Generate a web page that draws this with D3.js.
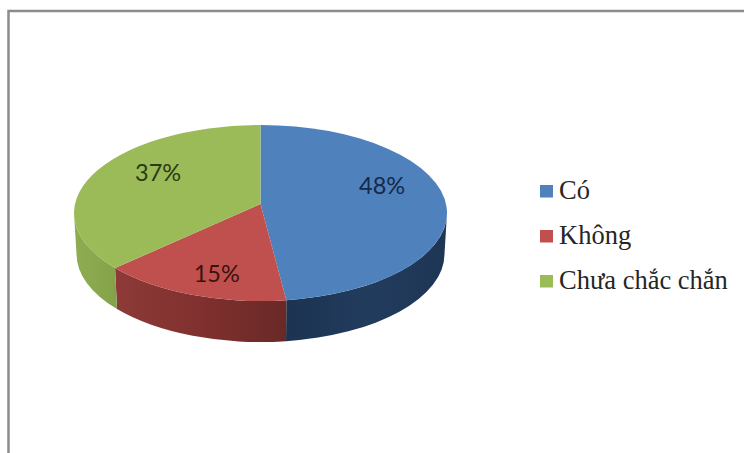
<!DOCTYPE html>
<html>
<head>
<meta charset="utf-8">
<script src="https://cdn.jsdelivr.net/npm/d3@7"></script>
<style>
    html, body { margin: 0; padding: 0; background: #fff; overflow: hidden; }
    svg { display: block; }
    .pct { font-family: Lato, "Open Sans", sans-serif; font-size: 23.5px; text-anchor: middle; }
    .legend-text { font-family: "Liberation Serif", serif; font-size: 26.5px; fill: #262626; }
</style>
</head>
<body>
<div id="chart"></div>
<script>
// survey answers
const categories = ["Có", "Không", "Chưa chắc chắn"];
const shares = [48, 15, 37];

const topColors = ["#4f81bd", "#c0504d", "#9bbb59"];
const textColors = ["#16294a", "#3a1312", "#2c3a14"];
// side wall shading, left to right
const wallStops = [
    ["#1c3351", "#223c5e", "#1e3654"],
    ["#8d3a38", "#80302e", "#692927"],
    ["#8eac50", "#8aa84d", "#84a249"]
];
// label shift from the mid-angle anchor
const labelNudge = [[2, -14.5], [1.5, 11], [4, -10]];

const width = 744, height = 453;
const topFace = {cx: 260.5, cy: 213, rx: 186.5, ry: 88};
const bottomFace = {cx: 260.5, cy: 254, rx: 184, ry: 88};
const apex = {x: 260.5, y: 204};

const svg = d3.select("#chart").append("svg")
    .attr("width", width)
    .attr("height", height);

const defs = svg.append("defs");

// frame of the sheet, runs off the right and bottom edges
svg.append("path")
    .attr("d", `M8.5,${height} V11 H${width}`)
    .attr("fill", "none")
    .attr("stroke", "#8c8c8c")
    .attr("stroke-width", 2.5);

const pie = d3.pie().sort(null).value(d => d).startAngle(0).endAngle(2 * Math.PI);
const slices = pie(shares);

// perspective: the circle's centre projects above the ellipse centre,
// so the near half of the disc is stretched
const shift = (apex.y - topFace.cy) / topFace.ry;

function warp(a) {
    let x = Math.sin(a), y = -Math.cos(a);
    let w = 1 + shift * y;
    let px = x * Math.sqrt(1 - shift * shift) / w,
        py = (y + shift) / w;
    let t = Math.atan2(px, -py);
    return t < 0 ? t + 2 * Math.PI : t;
}

function onEllipse(e, a) {
    return [e.cx + e.rx * Math.sin(a), e.cy - e.ry * Math.cos(a)];
}

// slice edges as ellipse angles, the last one closes at a full turn
const edges = slices.map(function(d) {
    let a0 = d.startAngle === 0 ? 0 : warp(d.startAngle),
        a1 = d.endAngle >= 2 * Math.PI - 1e-9 ? 2 * Math.PI : warp(d.endAngle);
    return {a0: a0, a1: a1};
});

// only the front half of the cylinder is visible
const frontStart = Math.PI / 2, frontEnd = 3 * Math.PI / 2;

edges.forEach(function(d, i) {
    let a0 = Math.max(d.a0, frontStart),
        a1 = Math.min(d.a1, frontEnd);
    if (a1 <= a0) return;

    let p0 = onEllipse(topFace, a0), p1 = onEllipse(topFace, a1),
        q0 = onEllipse(bottomFace, a0), q1 = onEllipse(bottomFace, a1);

    let grad = defs.append("linearGradient")
        .attr("id", "wall" + i)
        .attr("gradientUnits", "userSpaceOnUse")
        .attr("x1", Math.min(p0[0], p1[0]))
        .attr("x2", Math.max(p0[0], p1[0]))
        .attr("y1", 0)
        .attr("y2", 0);
    wallStops[i].forEach(function(c, k) {
        grad.append("stop").attr("offset", k / 2).attr("stop-color", c);
    });

    svg.append("path")
        .attr("d", `M${p0} A${topFace.rx},${topFace.ry} 0 0 1 ${p1} L${q1} A${bottomFace.rx},${bottomFace.ry} 0 0 0 ${q0} Z`)
        .attr("fill", `url(#wall${i})`);
});

// top face, wedges meet at the apex
edges.forEach(function(d, i) {
    let p0 = onEllipse(topFace, d.a0), p1 = onEllipse(topFace, d.a1);
    let large = d.a1 - d.a0 > Math.PI ? 1 : 0;
    svg.append("path")
        .attr("d", `M${apex.x},${apex.y} L${p0} A${topFace.rx},${topFace.ry} 0 ${large} 1 ${p1} Z`)
        .attr("fill", topColors[i]);
});

// percent labels
slices.forEach(function(d, i) {
    let edge = onEllipse(topFace, warp((d.startAngle + d.endAngle) / 2));
    let x = apex.x + 0.65 * (edge[0] - apex.x) + labelNudge[i][0];
    let y = apex.y + 0.65 * (edge[1] - apex.y) + labelNudge[i][1];
    svg.append("text")
        .attr("class", "pct")
        .attr("x", x)
        .attr("y", y)
        .attr("dy", "0.35em")
        .attr("fill", textColors[i])
        .text(d.value + "%");
});

// legend
const legendY = d3.scalePoint().domain(categories).range([191, 281]);
const legend = svg.append("g");

legend.selectAll("rect")
    .data(categories)
    .join("rect")
    .attr("x", 540)
    .attr("y", d => legendY(d) - 6)
    .attr("width", 13)
    .attr("height", 12.5)
    .attr("fill", (d, i) => topColors[i]);

legend.selectAll("text")
    .data(categories)
    .join("text")
    .attr("class", "legend-text")
    .attr("x", 559)
    .attr("y", d => legendY(d) + 8)
    .text(d => d);
</script>
</body>
</html>
